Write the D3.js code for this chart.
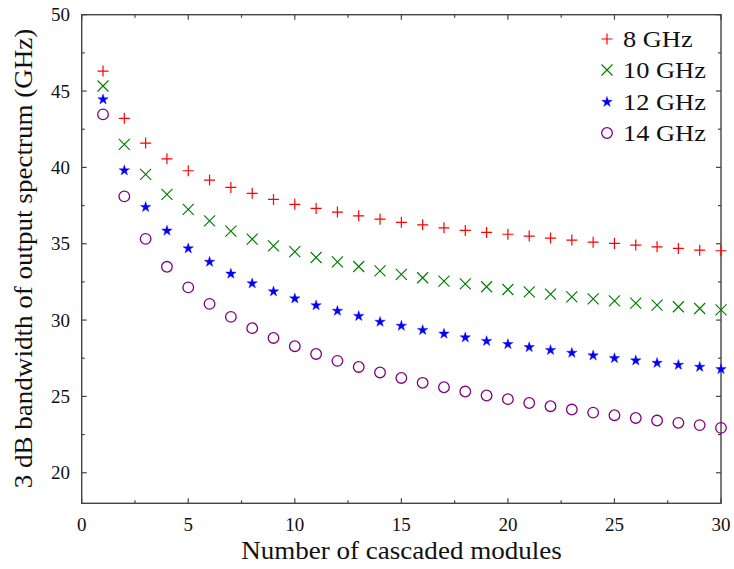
<!DOCTYPE html>
<html>
<head>
<meta charset="utf-8">
<script src="https://cdn.jsdelivr.net/npm/d3@7"></script>
<style>
  body { margin: 0; background: #fff; }
  text { font-family: "Liberation Serif", "Times New Roman", serif; fill: #111; }
</style>
</head>
<body>
<div id="chart"></div>
<script>
// DATA
const modules = d3.range(1, 31);
const seriesNames = ['8 GHz', '10 GHz', '12 GHz', '14 GHz'];
const bw8 = [46.31, 43.21, 41.59, 40.56, 39.78, 39.17, 38.69, 38.30, 37.90, 37.58,
             37.31, 37.07, 36.83, 36.61, 36.40, 36.24, 36.04, 35.87, 35.74, 35.62,
             35.50, 35.37, 35.24, 35.10, 35.02, 34.91, 34.80, 34.69, 34.58, 34.54];
const bw10 = [45.33, 41.51, 39.54, 38.23, 37.25, 36.50, 35.83, 35.30, 34.86, 34.48,
              34.10, 33.81, 33.51, 33.22, 32.99, 32.77, 32.55, 32.37, 32.18, 32.00,
              31.85, 31.70, 31.52, 31.39, 31.26, 31.11, 30.98, 30.87, 30.76, 30.67];
const bw12 = [44.45, 39.80, 37.40, 35.85, 34.69, 33.81, 33.03, 32.40, 31.87, 31.41,
              30.96, 30.60, 30.26, 29.88, 29.62, 29.34, 29.10, 28.86, 28.62, 28.42,
              28.22, 28.03, 27.85, 27.68, 27.50, 27.35, 27.19, 27.06, 26.93, 26.78];
const bw14 = [43.47, 38.10, 35.32, 33.49, 32.14, 31.06, 30.21, 29.47, 28.83, 28.29,
              27.78, 27.33, 26.93, 26.57, 26.21, 25.89, 25.60, 25.32, 25.06, 24.82,
              24.57, 24.36, 24.14, 23.94, 23.77, 23.59, 23.42, 23.27, 23.12, 22.94];
const xTicks = [0, 5, 10, 15, 20, 25, 30];
const yTicks = [20, 25, 30, 35, 40, 45, 50];
const xMinor = [2.5, 7.5, 12.5, 17.5, 22.5, 27.5];
const yMinor = [22.5, 27.5, 32.5, 37.5, 42.5, 47.5];

const series = [
  { name: seriesNames[0], values: bw8,  color: '#ff0000', mark: 'plus' },
  { name: seriesNames[1], values: bw10, color: '#008000', mark: 'cross' },
  { name: seriesNames[2], values: bw12, color: '#0000ff', mark: 'star' },
  { name: seriesNames[3], values: bw14, color: '#800080', mark: 'circle' }
];

// SETUP
const W = 734, H = 569;
const pLeft = 81.7, pRight = 721, pTop = 14.7, pBottom = 503.3;
const svg = d3.select('#chart').append('svg').attr('width', W).attr('height', H);
const x = d3.scaleLinear().domain([0, 30]).range([pLeft, pRight]);
const y = d3.scaleLinear().domain([18, 50]).range([pBottom, pTop]);

// stretch text a bit wider, the original font is broader than Times
function widen(sel, k) {
  sel.each(function() {
    const w = this.getComputedTextLength();
    d3.select(this).attr('textLength', w * k).attr('lengthAdjust', 'spacingAndGlyphs');
  });
}

// FRAME + TICKS (inward on all sides)
const axisColor = '#444';
const frame = svg.append('g');
frame.append('rect').attr('x', pLeft).attr('y', pTop)
  .attr('width', pRight - pLeft).attr('height', pBottom - pTop)
  .attr('fill', 'none').attr('stroke', axisColor).attr('stroke-width', 1.4);

function xTickLines(vals, len) {
  vals.forEach(v => {
    frame.append('line').attr('x1', x(v)).attr('x2', x(v)).attr('y1', pBottom).attr('y2', pBottom - len)
      .attr('stroke', axisColor).attr('stroke-width', 1.2);
    frame.append('line').attr('x1', x(v)).attr('x2', x(v)).attr('y1', pTop).attr('y2', pTop + len)
      .attr('stroke', axisColor).attr('stroke-width', 1.2);
  });
}
function yTickLines(vals, len) {
  vals.forEach(v => {
    frame.append('line').attr('x1', pLeft).attr('x2', pLeft + len).attr('y1', y(v)).attr('y2', y(v))
      .attr('stroke', axisColor).attr('stroke-width', 1.2);
    frame.append('line').attr('x1', pRight).attr('x2', pRight - len).attr('y1', y(v)).attr('y2', y(v))
      .attr('stroke', axisColor).attr('stroke-width', 1.2);
  });
}
xTickLines(xTicks, 5);
xTickLines(xMinor, 3);
yTickLines(yTicks, 5);
yTickLines(yMinor, 3);

// TICK LABELS
svg.append('g').selectAll('text').data(xTicks).enter().append('text')
  .attr('x', d => x(d)).attr('y', 530.5)
  .attr('text-anchor', 'middle').style('font-size', '19px')
  .text(d => d);
svg.append('g').selectAll('text').data(yTicks).enter().append('text')
  .attr('x', 70).attr('y', d => y(d) + 6.5)
  .attr('text-anchor', 'end').style('font-size', '19px')
  .text(d => d);

// AXIS TITLES
svg.append('text').attr('x', (240 + 563) / 2).attr('y', 559)
  .attr('text-anchor', 'middle').style('font-size', '26px')
  .text('Number of cascaded modules').call(widen, 1.04);
svg.append('text').attr('transform', 'translate(32,' + (27 + 490) / 2 + ') rotate(-90)')
  .attr('text-anchor', 'middle').style('font-size', '26px')
  .text('3 dB bandwidth of output spectrum (GHz)').call(widen, 1.04);

// MARKERS
function drawMark(g, kind, color) {
  const s = 5.5;
  if (kind === 'plus') {
    g.append('path').attr('d', `M${-s},0H${s}M0,${-s}V${s}`)
      .attr('stroke', color).attr('stroke-width', 1.2).attr('fill', 'none');
  } else if (kind === 'cross') {
    g.append('path').attr('d', `M${-s},${-s}L${s},${s}M${-s},${s}L${s},${-s}`)
      .attr('stroke', color).attr('stroke-width', 1.2).attr('fill', 'none');
  } else if (kind === 'star') {
    g.append('path').attr('d', d3.symbol().type(d3.symbolStar).size(34)())
      .attr('fill', color).attr('stroke', color).attr('stroke-width', 0.4);
  } else {
    g.append('circle').attr('r', 5.3)
      .attr('fill', 'none').attr('stroke', color).attr('stroke-width', 1.3);
  }
}

series.forEach(s => {
  const g = svg.append('g');
  g.selectAll('g').data(s.values).enter().append('g')
    .attr('transform', (d, i) => 'translate(' + x(modules[i]) + ',' + y(d) + ')')
    .each(function() { drawMark(d3.select(this), s.mark, s.color); });
});

// LEGEND
const legendY = [39, 70, 102, 133];
const legend = svg.append('g');
series.forEach((s, i) => {
  const row = legend.append('g').attr('transform', 'translate(607,' + legendY[i] + ')');
  drawMark(row, s.mark, s.color);
  row.append('text').attr('x', 16).attr('y', 8)
    .style('font-size', '24px').text(s.name).call(widen, 1.1);
});
</script>
</body>
</html>
